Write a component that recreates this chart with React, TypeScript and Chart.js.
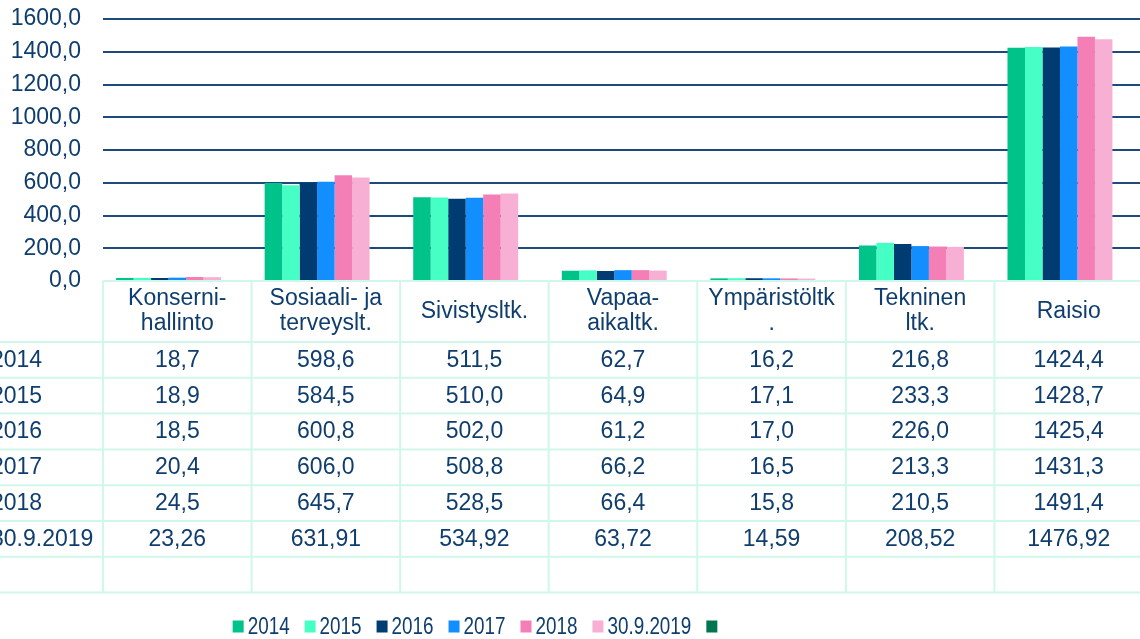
import { useEffect, useRef } from "react";
import { Chart, registerables } from "chart.js";

Chart.register(...registerables);

const categories: string[][] = [
  ["Konserni-", "hallinto"],
  ["Sosiaali- ja", "terveyslt."],
  ["Sivistysltk."],
  ["Vapaa-", "aikaltk."],
  ["Ympäristöltk", "."],
  ["Tekninen", "ltk."],
  ["Raisio"],
];

const seriesLabels = ["2014", "2015", "2016", "2017", "2018", "30.9.2019", ""];

const v2014 = [18.7, 598.6, 511.5, 62.7, 16.2, 216.8, 1424.4];
const v2015 = [18.9, 584.5, 510.0, 64.9, 17.1, 233.3, 1428.7];
const v2016 = [18.5, 600.8, 502.0, 61.2, 17.0, 226.0, 1425.4];
const v2017 = [20.4, 606.0, 508.8, 66.2, 16.5, 213.3, 1431.3];
const v2018 = [24.5, 645.7, 528.5, 66.4, 15.8, 210.5, 1491.4];
const v2019 = [23.26, 631.91, 534.92, 63.72, 14.59, 208.52, 1476.92];
const vEmpty: (number | null)[] = [null, null, null, null, null, null, null];

const seriesValues = [v2014, v2015, v2016, v2017, v2018, v2019, vEmpty];
const seriesDecimals = [1, 1, 1, 1, 1, 2, 0];
const seriesColors = ["#00c389", "#46ffc4", "#003c71", "#128eff", "#f47fb6", "#f7b0d3", "#007550"];

const yMin = 0;
const yMax = 1600;
const yStep = 200;

const TEXT = "#0f3e6e";
const GRID = "#1d4a7a";
const TABLE_LINE = "#cff8ea";
const FONT = "'Liberation Sans', Arial, sans-serif";

const fmt = (v: number, d: number) => v.toFixed(d).replace(".", ",");

const tablePlugin = {
  id: "dataTableAndLegend",
  afterDraw(chart: any) {
    const ctx: CanvasRenderingContext2D = chart.ctx;
    const xs = chart.scales.x;
    const area = chart.chartArea;
    const n = categories.length;
    const colW = (area.right - area.left) / n;
    const headerTop = area.bottom;
    const headerH = 61;
    const rowH = 35.8;
    const rows = seriesLabels.length;
    const tableBottom = headerTop + headerH + rows * rowH;
    const W = chart.width;

    ctx.save();
    ctx.strokeStyle = TABLE_LINE;
    ctx.lineWidth = 2;
    ctx.beginPath();
    ctx.moveTo(area.left, headerTop);
    ctx.lineTo(W, headerTop);
    for (let r = 0; r <= rows; r++) {
      const y = headerTop + headerH + r * rowH;
      ctx.moveTo(0, y);
      ctx.lineTo(W, y);
    }
    for (let c = 0; c <= n; c++) {
      const x = c < n ? xs.getPixelForValue(c) - colW / 2 : xs.getPixelForValue(n - 1) + colW / 2;
      ctx.moveTo(x, headerTop);
      ctx.lineTo(x, tableBottom);
    }
    ctx.stroke();

    ctx.fillStyle = TEXT;
    ctx.font = `23px ${FONT}`;
    ctx.textAlign = "center";
    ctx.textBaseline = "middle";
    const hc = headerTop + headerH / 2;
    categories.forEach((lines, i) => {
      const cx = xs.getPixelForValue(i);
      const lh = 25;
      lines.forEach((t, k) => {
        const y = hc + (k - (lines.length - 1) / 2) * lh;
        ctx.fillText(t, cx, y);
      });
    });

    seriesValues.forEach((vals, r) => {
      const cy = headerTop + headerH + r * rowH + rowH / 2 + 0.5;
      ctx.textAlign = "left";
      ctx.fillText(seriesLabels[r], 31, cy);
      ctx.textAlign = "center";
      vals.forEach((v, i) => {
        if (v === null || v === undefined) return;
        ctx.fillText(fmt(v as number, seriesDecimals[r]), xs.getPixelForValue(i), cy);
      });
    });

    // legend (condensed text like the original)
    const sx = 0.82;
    ctx.font = `23px ${FONT}`;
    ctx.textAlign = "left";
    const box = 11;
    const gapText = 4;
    const gapItem = 15;
    const items = chart.data.datasets.map((ds: any, i: number) => {
      const tw = ctx.measureText(ds.label).width * sx;
      const w = ds.label ? box + gapText + tw : box;
      return { label: ds.label, color: seriesColors[i], w };
    });
    let total = 0;
    items.forEach((it: any, i: number) => {
      total += it.w + (i < items.length - 1 ? gapItem : 0);
    });
    let x = 515 - total / 2;
    const ly = 626.5;
    items.forEach((it: any) => {
      ctx.fillStyle = it.color;
      ctx.fillRect(x, ly - 6, box, 12);
      if (it.label) {
        ctx.save();
        ctx.translate(x + box + gapText, ly + 1);
        ctx.scale(sx, 1);
        ctx.fillStyle = TEXT;
        ctx.fillText(it.label, 0, 0);
        ctx.restore();
      }
      x += it.w + gapItem;
    });
    ctx.restore();
  },
};

export default function App() {
  const ref = useRef<HTMLCanvasElement | null>(null);

  useEffect(() => {
    if (!ref.current) return;
    const chart = new Chart(ref.current, {
      type: "bar",
      data: {
        labels: categories.map((c) => c.join(" ")),
        datasets: seriesValues.map((vals, i) => ({
          label: seriesLabels[i],
          data: vals,
          backgroundColor: seriesColors[i],
          borderWidth: 0,
          barPercentage: 1,
          categoryPercentage: 0.824,
        })),
      },
      options: {
        responsive: false,
        animation: false,
        layout: { padding: { top: 19, right: 17, bottom: 358, left: 0 } },
        plugins: {
          legend: { display: false },
          tooltip: { enabled: false },
        },
        scales: {
          x: { display: false },
          y: {
            min: yMin,
            max: yMax,
            border: { display: false },
            grid: {
              drawTicks: false,
              lineWidth: 2,
              color: (c: any) => (c.tick && c.tick.value === 0 ? "rgba(0,0,0,0)" : GRID),
            },
            ticks: {
              stepSize: yStep,
              padding: 22,
              color: TEXT,
              font: { family: FONT, size: 23 },
              callback: (v: any) => fmt(Number(v), 1),
            },
            afterFit: (s: any) => {
              s.width = 143;
              s.paddingTop = 0;
              s.paddingBottom = 0;
            },
          },
        },
      },
      plugins: [tablePlugin],
    });
    return () => chart.destroy();
  }, []);

  return (
    <div
      style={{
        position: "fixed",
        left: 0,
        top: 0,
        width: "100vw",
        height: "100vh",
        overflow: "hidden",
        background: "#fff",
      }}
    >
      <div style={{ position: "absolute", left: -40, top: 0, width: 1200, height: 639 }}>
        <canvas ref={ref} width={1200} height={639} style={{ width: 1200, height: 639, display: "block" }} />
      </div>
    </div>
  );
}
